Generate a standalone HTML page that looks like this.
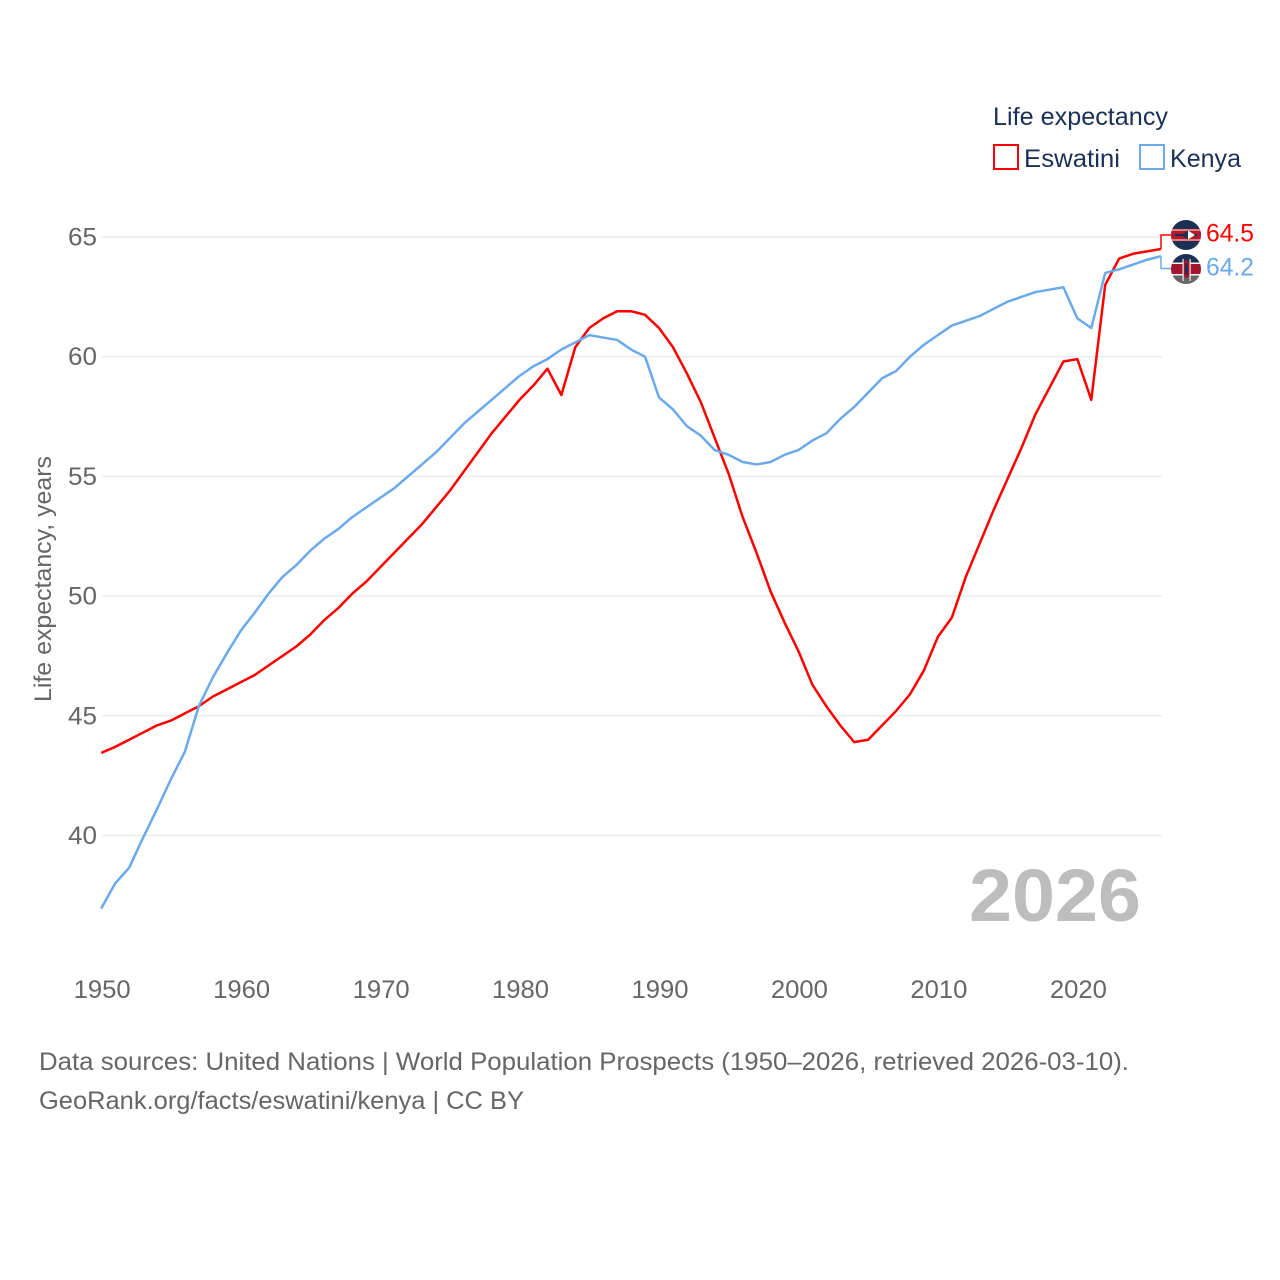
<!DOCTYPE html>
<html lang="en">
<head>
<meta charset="utf-8">
<title>Life expectancy: Eswatini and Kenya</title>
<style>
html,body{margin:0;padding:0;background:#fff;width:1280px;height:1280px;overflow:hidden}
svg{display:block;font-family:"Liberation Sans",sans-serif}
</style>
</head>
<body>
<svg id="chart" xmlns="http://www.w3.org/2000/svg" width="1280" height="1280" viewBox="0 0 1280 1280">
  <g id="grid"></g>
  <g id="yticks"></g>
  <g id="xticks"></g>
  <text transform="translate(51,579) rotate(-90)" text-anchor="middle" font-size="24" fill="#666" textLength="246" lengthAdjust="spacingAndGlyphs">Life expectancy, years</text>
  <text x="969" y="921" font-size="74" font-weight="bold" fill="#bdbdbd" textLength="172" lengthAdjust="spacingAndGlyphs">2026</text>
  <g id="series"></g>

  <g>
    <text x="993" y="125" font-size="25" fill="#1a3054" textLength="175" lengthAdjust="spacingAndGlyphs">Life expectancy</text>
    <g>
      <rect x="994" y="145" width="24" height="24" fill="#fff" stroke="#ff0000" stroke-width="2"/>
      <text x="1024" y="167" font-size="25" fill="#1a3054" textLength="96" lengthAdjust="spacingAndGlyphs">Eswatini</text>
    </g>
    <g>
      <rect x="1140" y="145" width="24" height="24" fill="#fff" stroke="#6aaaec" stroke-width="2"/>
      <text x="1170" y="167" font-size="25" fill="#1a3054" textLength="71" lengthAdjust="spacingAndGlyphs">Kenya</text>
    </g>
  </g>

  <defs>
    <clipPath id="flag-clip-e"><circle cx="1186" cy="235" r="15"/></clipPath>
    <clipPath id="flag-clip-k"><circle cx="1186" cy="269" r="15"/></clipPath>
  </defs>
  <g clip-path="url(#flag-clip-e)">
    <rect x="1171" y="220" width="30" height="30" fill="#1a3054"/>
    <rect x="1171" y="229" width="30" height="12" fill="#ef7a78"/>
    <rect x="1171" y="231" width="30" height="8" fill="#b01b30"/>
    <rect x="1175" y="234" width="22" height="2" fill="#1a3054"/>
    <path d="M1181 235 L1188 230.5 L1195 235 L1188 239.5 Z" fill="#1a3054"/>
    <path d="M1188 230.5 L1195 235 L1188 239.5 Z" fill="#fff"/>
  </g>
  <g clip-path="url(#flag-clip-k)">
    <rect x="1171" y="254" width="30" height="10" fill="#1a3054"/>
    <rect x="1171" y="264" width="30" height="10" fill="#a3142e"/>
    <rect x="1171" y="262.5" width="30" height="1.5" fill="#f3f3f3"/>
    <rect x="1171" y="274" width="30" height="1.5" fill="#f3f3f3"/>
    <rect x="1171" y="275.5" width="30" height="10" fill="#666"/>
    <ellipse cx="1186.5" cy="269" rx="4" ry="9" fill="#a3142e"/>
    <ellipse cx="1186.5" cy="269" rx="1.6" ry="6" fill="#1a3054"/>
    <rect x="1182.5" y="259" width="1.2" height="22" fill="#eee"/>
    <rect x="1189.5" y="259" width="1.2" height="22" fill="#eee"/>
  </g>

  <g>
    <text x="39" y="1070" font-size="25" fill="#666" textLength="1090" lengthAdjust="spacingAndGlyphs">Data sources: United Nations | World Population Prospects (1950–2026, retrieved 2026-03-10).</text>
    <text x="39" y="1109" font-size="25" fill="#666" textLength="485" lengthAdjust="spacingAndGlyphs">GeoRank.org/facts/eswatini/kenya | CC BY</text>
  </g>
</svg>
<script>
const startYear = 1950;
const yTickValues = [40, 45, 50, 55, 60, 65];
const xTickValues = [1950, 1960, 1970, 1980, 1990, 2000, 2010, 2020];
const eswatiniValues = [43.45,43.7,44.0,44.3,44.6,44.8,45.1,45.4,45.8,46.1,46.4,46.7,47.1,47.5,47.9,48.4,49.0,49.5,50.1,50.6,51.2,51.8,52.4,53.0,53.7,54.4,55.2,56.0,56.8,57.5,58.2,58.8,59.5,58.4,60.4,61.2,61.6,61.9,61.9,61.75,61.2,60.4,59.3,58.1,56.6,55.1,53.3,51.8,50.2,48.9,47.7,46.3,45.4,44.6,43.9,44.0,44.6,45.2,45.9,46.9,48.3,49.1,50.8,52.2,53.6,54.9,56.2,57.6,58.7,59.8,59.9,58.2,63.0,64.1,64.3,64.4,64.5];
const kenyaValues = [36.95,38.0,38.65,39.9,41.1,42.35,43.5,45.4,46.6,47.6,48.55,49.3,50.1,50.8,51.3,51.9,52.4,52.8,53.3,53.7,54.1,54.5,55.0,55.5,56.0,56.6,57.2,57.7,58.2,58.7,59.2,59.6,59.9,60.3,60.6,60.9,60.8,60.7,60.3,60.0,58.3,57.8,57.1,56.7,56.1,55.9,55.6,55.5,55.6,55.9,56.1,56.5,56.8,57.4,57.9,58.5,59.1,59.4,60.0,60.5,60.9,61.3,61.5,61.7,62.0,62.3,62.5,62.7,62.8,62.9,61.6,61.2,63.5,63.65,63.85,64.05,64.2];

const NS = 'http://www.w3.org/2000/svg';
const xScale = function (year) { return 101.2 + (year - 1950) * (1161 - 101.2) / 76; };
const tickXScale = function (year) { return 102.2 + (year - 1950) * (1162 - 102.2) / 76; };
const yScale = function (v) { return 835.5 - (v - 40) * (835.5 - 237) / 25; };

function make(tag, attrs, parent, text) {
  const el = document.createElementNS(NS, tag);
  Object.keys(attrs).forEach(function (k) { el.setAttribute(k, attrs[k]); });
  if (text !== undefined) el.textContent = text;
  parent.appendChild(el);
  return el;
}

const grid = document.getElementById('grid');
const yticks = document.getElementById('yticks');
const xticks = document.getElementById('xticks');
const series = document.getElementById('series');

yTickValues.forEach(function (v) {
  const line = make('line', { x1: 102, x2: 1162, y1: yScale(v), y2: yScale(v), stroke: '#ececec', 'stroke-width': 1.5 }, grid);
  
  
  const label = make('text', { x: 97, y: yScale(v) + 8.5, 'text-anchor': 'end', 'font-size': 25, fill: '#666', textLength: 29, lengthAdjust: 'spacingAndGlyphs' }, yticks, String(v));
  
  
});

xTickValues.forEach(function (year) {
  const label = make('text', { x: tickXScale(year), y: 998, 'text-anchor': 'middle', 'font-size': 25, fill: '#666', textLength: 57, lengthAdjust: 'spacingAndGlyphs' }, xticks, String(year));
  
  
});

function linePoints(values) {
  return values.map(function (v, i) {
    return xScale(startYear + i).toFixed(2) + ',' + yScale(v).toFixed(2);
  }).join(' ');
}

const eswatiniLine = make('polyline', { points: linePoints(eswatiniValues), fill: 'none', stroke: '#ff0000', 'stroke-width': 2.5, 'stroke-linejoin': 'round' }, series);



const kenyaLine = make('polyline', { points: linePoints(kenyaValues), fill: 'none', stroke: '#6aaaec', 'stroke-width': 2.5, 'stroke-linejoin': 'round' }, series);



const lastX = xScale(startYear + eswatiniValues.length - 1);
const eswatiniLast = eswatiniValues[eswatiniValues.length - 1];
const kenyaLast = kenyaValues[kenyaValues.length - 1];

const eswatiniConnector = make('polyline', { points: lastX + ',' + yScale(eswatiniLast) + ' ' + lastX + ',235 1172,235', fill: 'none', stroke: '#ff0000', 'stroke-width': 1.5 }, series);



const kenyaConnector = make('polyline', { points: lastX + ',' + yScale(kenyaLast) + ' ' + lastX + ',268.5 1172,268.5', fill: 'none', stroke: '#6aaaec', 'stroke-width': 1.5 }, series);



const eswatiniValueLabel = make('text', { x: 1206, y: 241.5, 'font-size': 25, fill: '#ff0000', textLength: 48, lengthAdjust: 'spacingAndGlyphs' }, series, eswatiniLast.toFixed(1));



const kenyaValueLabel = make('text', { x: 1206, y: 275.5, 'font-size': 25, fill: '#6aaaec', textLength: 48, lengthAdjust: 'spacingAndGlyphs' }, series, kenyaLast.toFixed(1));


</script>
</body>
</html>
